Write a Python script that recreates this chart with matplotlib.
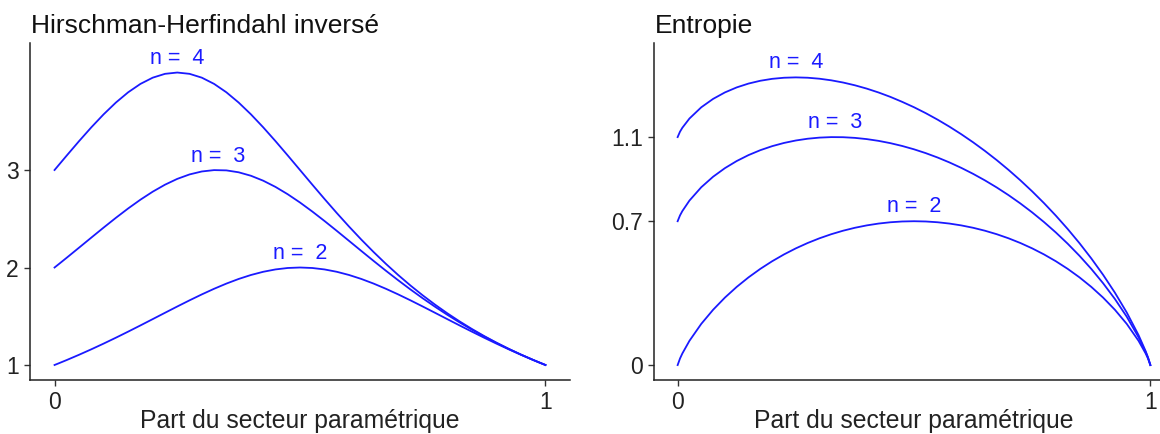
import matplotlib
matplotlib.use("Agg")
import matplotlib.pyplot as plt

# Share of the parametric sector (x values)
share = [0, 0.005, 0.01, 0.025, 0.05, 0.075, 0.10, 0.125, 0.15, 0.175, 0.20, 0.225, 0.25,
         0.275, 0.30, 0.325, 0.35, 0.375, 0.40, 0.425, 0.45, 0.475, 0.50, 0.525, 0.55,
         0.575, 0.60, 0.625, 0.65, 0.675, 0.70, 0.725, 0.75, 0.775, 0.80, 0.825, 0.85,
         0.875, 0.90, 0.925, 0.95, 0.975, 0.99, 0.995, 1]

# Inverse Hirschman-Herfindahl
ihh_n2 = [1.0, 1.0100, 1.0202, 1.0512, 1.1050, 1.1611, 1.2195, 1.28, 1.3423, 1.4060, 1.4706,
          1.5355, 1.6, 1.6632, 1.7241, 1.7817, 1.8349, 1.8824, 1.9231, 1.9560, 1.9802, 1.9950,
          2.0, 1.9950, 1.9802, 1.9560, 1.9231, 1.8824, 1.8349, 1.7817, 1.7241, 1.6632, 1.6,
          1.5355, 1.4706, 1.4060, 1.3423, 1.28, 1.2195, 1.1611, 1.1050, 1.0512, 1.0202,
          1.0100, 1.0]
ihh_n3 = [2.0, 2.0201, 2.0402, 2.1011, 2.2039, 2.3071, 2.4096, 2.5098, 2.6059, 2.6959, 2.7778,
          2.8495, 2.9091, 2.9548, 2.9851, 2.9991, 2.9963, 2.9767, 2.9412, 2.8907, 2.8269,
          2.7515, 2.6667, 2.5744, 2.4768, 2.3757, 2.2727, 2.1695, 2.0672, 1.9668, 1.8692,
          1.7748, 1.6842, 1.5976, 1.5152, 1.4369, 1.3629, 1.2929, 1.2270, 1.1649, 1.1065,
          1.0516, 1.0203, 1.0101, 1.0]
ihh_n4 = [3.0, 3.0300, 3.0600, 3.1496, 3.2967, 3.4384, 3.5714, 3.6923, 3.7975, 3.8835, 3.9474,
          3.9867, 4.0, 3.9867, 3.9474, 3.8835, 3.7975, 3.6923, 3.5714, 3.4384, 3.2967, 3.1496,
          3.0, 2.8504, 2.7027, 2.5586, 2.4194, 2.2857, 2.1583, 2.0374, 1.9231, 1.8154, 1.7143,
          1.6194, 1.5306, 1.4475, 1.3699, 1.2973, 1.2295, 1.1662, 1.1070, 1.0517, 1.0203,
          1.0101, 1.0]

# Entropy
ent_n2 = [0.0, 0.031479, 0.056002, 0.116907, 0.198515, 0.266384, 0.325083, 0.376770, 0.422709,
          0.463726, 0.500402, 0.533163, 0.562335, 0.588169, 0.610864, 0.630580, 0.647447,
          0.661564, 0.673012, 0.681854, 0.688139, 0.691896, 0.693147, 0.691896, 0.688139,
          0.681854, 0.673012, 0.661564, 0.647447, 0.630580, 0.610864, 0.588169, 0.562335,
          0.533163, 0.500402, 0.463726, 0.422709, 0.376770, 0.325083, 0.266384, 0.198515,
          0.116907, 0.056002, 0.031479, 0.0]
ent_n3 = [0.693147, 0.721160, 0.742218, 0.792725, 0.857005, 0.907545, 0.948915, 0.983274,
          1.011884, 1.035572, 1.054920, 1.070352, 1.082195, 1.090701, 1.096067, 1.098454,
          1.097993, 1.094781, 1.088900, 1.080414, 1.069370, 1.055798, 1.039721, 1.021141,
          1.000055, 0.976441, 0.950271, 0.921494, 0.890048, 0.855853, 0.818808, 0.778784,
          0.735622, 0.689121, 0.639031, 0.585027, 0.526681, 0.463413, 0.394398, 0.318370,
          0.233172, 0.134236, 0.062933, 0.034945, 0.0]
ent_n4 = [1.098612, 1.124598, 1.143628, 1.188054, 1.242196, 1.282600, 1.313834, 1.338056,
          1.356529, 1.370081, 1.379292, 1.384587, 1.386294, 1.384663, 1.379892, 1.372143,
          1.361545, 1.348197, 1.332179, 1.313556, 1.292376, 1.268380, 1.242453, 1.213737,
          1.182514, 1.148764, 1.112457, 1.073544, 1.031961, 0.987629, 0.940448, 0.890287,
          0.836988, 0.780351, 0.720124, 0.655983, 0.587501, 0.514097, 0.434944, 0.348780,
          0.253446, 0.144372, 0.066988, 0.036972, 0.0]

n_values = [2, 3, 4]
label_x = [0.5, 1 / 3, 0.25]
ihh_peaks = [2.0, 3.0, 4.0]
ent_peaks = [0.693147, 1.098612, 1.386294]

ihh_ticks = [1, 2, 3]
ihh_ticklabels = ["1", "2", "3"]
ent_ticks = [0, 0.693147, 1.098612]
ent_ticklabels = ["0", "0.7", "1.1"]
x_ticks = [0, 1]
x_ticklabels = ["0", "1"]

titles = ["Hirschman-Herfindahl inversé", "Entropie"]
xlabel = "Part du secteur paramétrique"

plt.rcParams['font.family'] = ['Liberation Sans', 'DejaVu Sans']

W, H = 1160, 434
fig = plt.figure(figsize=(W / 100, H / 100), dpi=100)

ax1 = fig.add_axes([30 / W, (H - 380) / H, 540 / W, 337 / H])
ax2 = fig.add_axes([654 / W, (H - 380) / H, 520 / W, 337 / H])

blue = "#1a1aff"
tick_col = "#222222"


def style(ax, title, left_px, xcenter_px):
    for s in ["top", "right"]:
        ax.spines[s].set_visible(False)
    for s in ["left", "bottom"]:
        ax.spines[s].set_linewidth(1.1)
        ax.spines[s].set_color("#222222")
    ax.tick_params(direction="out", length=4, width=1.0, color="#333333",
                   labelsize=16.5, labelcolor=tick_col, pad=4)
    ax.set_xlim(-0.05, 1.05)
    ax.set_xticks(x_ticks)
    ax.set_xticklabels(x_ticklabels)
    fig.text(xcenter_px / W, (H - 428) / H, xlabel, fontsize=17.8, color="#222222",
             ha="center", va="baseline")
    fig.text(left_px / W, (H - 33) / H, title, fontsize=19, color="#111111",
             ha="left", va="baseline")


for series in [ihh_n2, ihh_n3, ihh_n4]:
    ax1.plot(share, series, color=blue, lw=1.3)
for n, lx, pk in zip(n_values, label_x, ihh_peaks):
    ax1.text(lx, pk + 0.14, f"n =  {n}", color=blue, fontsize=15.5, ha="center", va="center")
style(ax1, titles[0], 31, 300)
ax1.set_ylim(0.846, 4.303)
ax1.set_yticks(ihh_ticks)
ax1.set_yticklabels(ihh_ticklabels)

for series in [ent_n2, ent_n3, ent_n4]:
    ax2.plot(share, series, color=blue, lw=1.3)
for n, lx, pk in zip(n_values, label_x, ent_peaks):
    ax2.text(lx, pk + 0.072, f"n =  {n}", color=blue, fontsize=15.5, ha="center", va="center")
style(ax2, titles[1], 655, 914)
ax2.set_ylim(-0.072, 1.552)
ax2.set_yticks(ent_ticks)
ax2.set_yticklabels(ent_ticklabels)

fig.savefig("out.png", dpi=100)
